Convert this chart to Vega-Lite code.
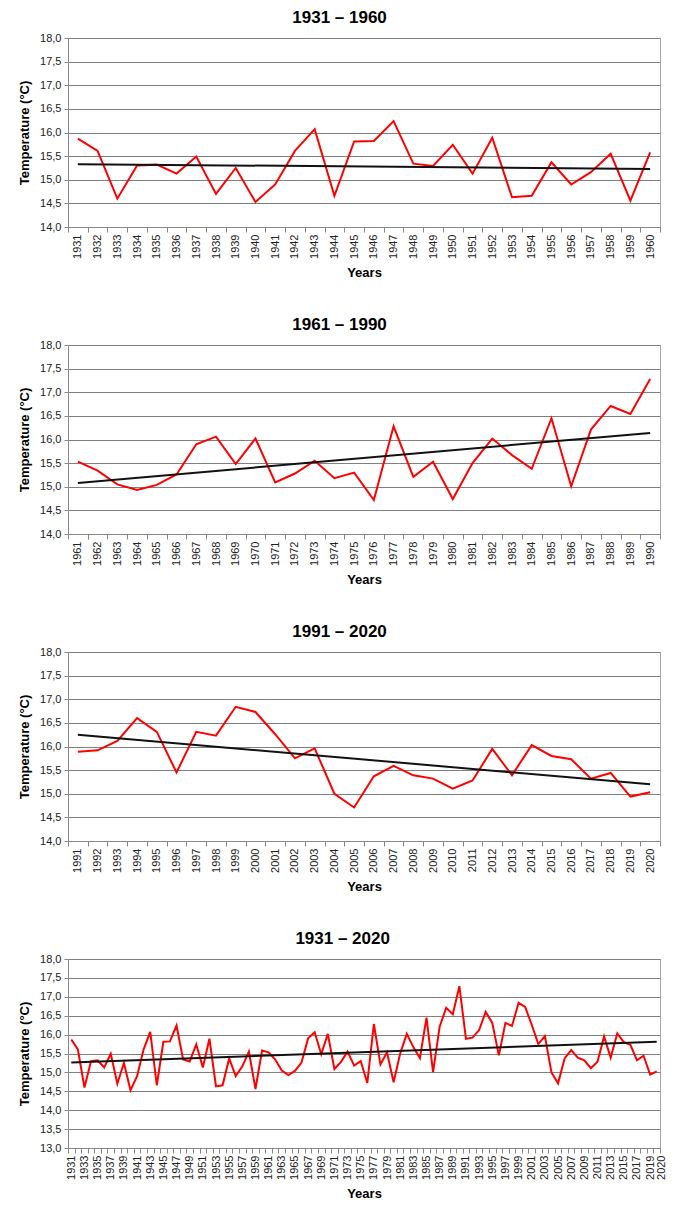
{
  "$schema": "https://vega.github.io/schema/vega-lite/v6.json",
  "background": "white",
  "padding": {"left": 18, "top": 8, "right": 5, "bottom": 5},
  "spacing": 35,
  "datasets": {
    "temps": [
      {"year": 1931, "t": 15.87}, {"year": 1932, "t": 15.61}, {"year": 1933, "t": 14.60}, {"year": 1934, "t": 15.30}, {"year": 1935, "t": 15.32},
      {"year": 1936, "t": 15.13}, {"year": 1937, "t": 15.49}, {"year": 1938, "t": 14.70}, {"year": 1939, "t": 15.25}, {"year": 1940, "t": 14.53},
      {"year": 1941, "t": 14.90}, {"year": 1942, "t": 15.61}, {"year": 1943, "t": 16.07}, {"year": 1944, "t": 14.66}, {"year": 1945, "t": 15.81},
      {"year": 1946, "t": 15.82}, {"year": 1947, "t": 16.24}, {"year": 1948, "t": 15.34}, {"year": 1949, "t": 15.29}, {"year": 1950, "t": 15.74},
      {"year": 1951, "t": 15.13}, {"year": 1952, "t": 15.89}, {"year": 1953, "t": 14.63}, {"year": 1954, "t": 14.66}, {"year": 1955, "t": 15.37},
      {"year": 1956, "t": 14.90}, {"year": 1957, "t": 15.16}, {"year": 1958, "t": 15.55}, {"year": 1959, "t": 14.56}, {"year": 1960, "t": 15.58},
      {"year": 1961, "t": 15.53}, {"year": 1962, "t": 15.34}, {"year": 1963, "t": 15.05}, {"year": 1964, "t": 14.93}, {"year": 1965, "t": 15.04},
      {"year": 1966, "t": 15.26}, {"year": 1967, "t": 15.90}, {"year": 1968, "t": 16.06}, {"year": 1969, "t": 15.48}, {"year": 1970, "t": 16.02},
      {"year": 1971, "t": 15.09}, {"year": 1972, "t": 15.28}, {"year": 1973, "t": 15.55}, {"year": 1974, "t": 15.18}, {"year": 1975, "t": 15.30},
      {"year": 1976, "t": 14.72}, {"year": 1977, "t": 16.28}, {"year": 1978, "t": 15.21}, {"year": 1979, "t": 15.53}, {"year": 1980, "t": 14.74},
      {"year": 1981, "t": 15.50}, {"year": 1982, "t": 16.02}, {"year": 1983, "t": 15.67}, {"year": 1984, "t": 15.38}, {"year": 1985, "t": 16.45},
      {"year": 1986, "t": 15.01}, {"year": 1987, "t": 16.21}, {"year": 1988, "t": 16.71}, {"year": 1989, "t": 16.54}, {"year": 1990, "t": 17.28},
      {"year": 1991, "t": 15.89}, {"year": 1992, "t": 15.92}, {"year": 1993, "t": 16.12}, {"year": 1994, "t": 16.60}, {"year": 1995, "t": 16.31},
      {"year": 1996, "t": 15.45}, {"year": 1997, "t": 16.31}, {"year": 1998, "t": 16.23}, {"year": 1999, "t": 16.84}, {"year": 2000, "t": 16.73},
      {"year": 2001, "t": 16.26}, {"year": 2002, "t": 15.75}, {"year": 2003, "t": 15.96}, {"year": 2004, "t": 15.00}, {"year": 2005, "t": 14.71},
      {"year": 2006, "t": 15.37}, {"year": 2007, "t": 15.59}, {"year": 2008, "t": 15.39}, {"year": 2009, "t": 15.32}, {"year": 2010, "t": 15.11},
      {"year": 2011, "t": 15.28}, {"year": 2012, "t": 15.95}, {"year": 2013, "t": 15.39}, {"year": 2014, "t": 16.03}, {"year": 2015, "t": 15.80},
      {"year": 2016, "t": 15.73}, {"year": 2017, "t": 15.32}, {"year": 2018, "t": 15.44}, {"year": 2019, "t": 14.94}, {"year": 2020, "t": 15.03}
    ],
    "trends": [
      {"panel": "p1", "year": 1931, "t": 15.33}, {"panel": "p1", "year": 1960, "t": 15.23},
      {"panel": "p2", "year": 1961, "t": 15.08}, {"panel": "p2", "year": 1990, "t": 16.14},
      {"panel": "p3", "year": 1991, "t": 16.25}, {"panel": "p3", "year": 2020, "t": 15.20},
      {"panel": "p4", "year": 1931, "t": 15.26}, {"panel": "p4", "year": 2020, "t": 15.81}
    ]
  },
  "vconcat": [
    {
      "width": 592, "height": 189,
      "title": {"text": "1931 – 1960"},
      "encoding": {
        "x": {"field": "year", "type": "ordinal", "title": "Years", "scale": {"type": "band", "paddingInner": 0, "paddingOuter": 0}},
        "y": {"field": "t", "type": "quantitative", "title": "Temperature (°C)", "scale": {"domain": [14, 18], "zero": false, "nice": false}, "axis": {"values": [14, 14.5, 15, 15.5, 16, 16.5, 17, 17.5, 18]}}
      },
      "layer": [
        {"data": {"name": "temps"}, "transform": [{"filter": "datum.year <= 1960"}], "mark": {"type": "line", "color": "#ff0000", "strokeWidth": 2}},
        {"data": {"name": "trends"}, "transform": [{"filter": "datum.panel == 'p1'"}], "mark": {"type": "line", "color": "#111111", "strokeWidth": 2}}
      ]
    },
    {
      "width": 592, "height": 189,
      "title": {"text": "1961 – 1990"},
      "encoding": {
        "x": {"field": "year", "type": "ordinal", "title": "Years", "scale": {"type": "band", "paddingInner": 0, "paddingOuter": 0}},
        "y": {"field": "t", "type": "quantitative", "title": "Temperature (°C)", "scale": {"domain": [14, 18], "zero": false, "nice": false}, "axis": {"values": [14, 14.5, 15, 15.5, 16, 16.5, 17, 17.5, 18]}}
      },
      "layer": [
        {"data": {"name": "temps"}, "transform": [{"filter": "datum.year >= 1961 && datum.year <= 1990"}], "mark": {"type": "line", "color": "#ff0000", "strokeWidth": 2}},
        {"data": {"name": "trends"}, "transform": [{"filter": "datum.panel == 'p2'"}], "mark": {"type": "line", "color": "#111111", "strokeWidth": 2}}
      ]
    },
    {
      "width": 592, "height": 189,
      "title": {"text": "1991 – 2020"},
      "encoding": {
        "x": {"field": "year", "type": "ordinal", "title": "Years", "scale": {"type": "band", "paddingInner": 0, "paddingOuter": 0}},
        "y": {"field": "t", "type": "quantitative", "title": "Temperature (°C)", "scale": {"domain": [14, 18], "zero": false, "nice": false}, "axis": {"values": [14, 14.5, 15, 15.5, 16, 16.5, 17, 17.5, 18]}}
      },
      "layer": [
        {"data": {"name": "temps"}, "transform": [{"filter": "datum.year >= 1991"}], "mark": {"type": "line", "color": "#ff0000", "strokeWidth": 2}},
        {"data": {"name": "trends"}, "transform": [{"filter": "datum.panel == 'p3'"}], "mark": {"type": "line", "color": "#111111", "strokeWidth": 2}}
      ]
    },
    {
      "width": 592, "height": 189,
      "title": {"text": "1931 – 2020"},
      "encoding": {
        "x": {"field": "year", "type": "ordinal", "title": "Years", "scale": {"type": "band", "paddingInner": 0, "paddingOuter": 0},
              "axis": {"labelExpr": "(datum.value % 2 == 1 || datum.value == 2020) ? datum.label : ''", "labelOffset": {"condition": {"test": "datum.value == 2020", "value": 5}, "value": 0}}},
        "y": {"field": "t", "type": "quantitative", "title": "Temperature (°C)", "scale": {"domain": [13, 18], "zero": false, "nice": false}, "axis": {"values": [13, 13.5, 14, 14.5, 15, 15.5, 16, 16.5, 17, 17.5, 18]}}
      },
      "layer": [
        {"data": {"name": "temps"}, "mark": {"type": "line", "color": "#ff0000", "strokeWidth": 2}},
        {"data": {"name": "trends"}, "transform": [{"filter": "datum.panel == 'p4'"}], "mark": {"type": "line", "color": "#111111", "strokeWidth": 2}}
      ]
    }
  ],
  "config": {
    "font": "Liberation Sans",
    "view": {"stroke": "#a6a6a6", "strokeWidth": 1},
    "title": {"font": "Liberation Sans", "fontSize": 17, "fontWeight": "bold", "color": "#000000", "anchor": "middle", "frame": "bounds", "offset": 5},
    "axis": {
      "labelFont": "Liberation Sans", "labelFontSize": 11, "labelColor": "#222222",
      "titleFont": "Liberation Sans", "titleFontSize": 13, "titleFontWeight": "bold", "titleColor": "#000000",
      "domainColor": "#888888", "tickColor": "#888888"
    },
    "axisX": {"labelAngle": -90, "labelAlign": "right", "labelBaseline": "middle", "tickSize": 5, "labelPadding": 2, "titlePadding": 8, "grid": false, "tickBand": "extent", "labelOverlap": false},
    "axisY": {"grid": true, "gridColor": "#808080", "gridWidth": 1, "tickSize": 4, "labelPadding": 3, "titlePadding": 8, "labelExpr": "replace(format(datum.value, '.1f'), '.', ',')", "labelOverlap": false}
  }
}
